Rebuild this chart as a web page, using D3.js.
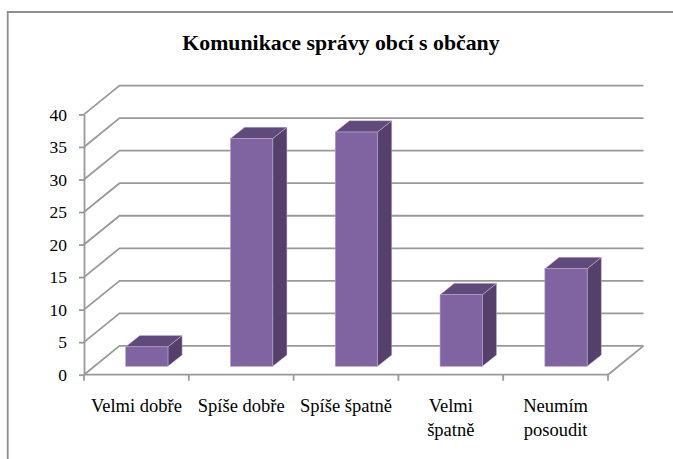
<!DOCTYPE html>
<html>
<head>
<meta charset="utf-8">
<script src="https://cdn.jsdelivr.net/npm/d3@7"></script>
<style>
  html, body { margin: 0; padding: 0; background: #fff; }
  svg { display: block; }
  text { font-family: "Liberation Serif", serif; fill: #000; }
</style>
</head>
<body>
<svg id="chart" width="673" height="459"></svg>
<script>
const categories = [["Velmi dobře"], ["Spíše dobře"], ["Spíše špatně"], ["Velmi", "špatně"], ["Neumím", "posoudit"]];
const values = [3, 35, 36, 11, 15];
const yTicks = [0, 5, 10, 15, 20, 25, 30, 35, 40];
const title = "Komunikace správy obcí s občany";

const gray = "#999";
const plot = { left: 84, right: 608, top: 114.4, bottom: 374.7 };
const wall = { dx: 35.5, dy: -28.8 };   // offset of the back wall
const bar = { dx: 14.2, dy: -11.4, offX: 10.4, offY: -8.4, width: 42.3 };

const svg = d3.select("#chart");

// frame of the pasted chart, cut off at the right and bottom
svg.append("path")
  .attr("d", "M7.7,459V12H673")
  .attr("fill", "none")
  .attr("stroke", "#8e8e8e")
  .attr("stroke-width", 1.8);

svg.append("text")
  .attr("x", 341)
  .attr("y", 50)
  .attr("text-anchor", "middle")
  .style("font-size", "21.8px")
  .style("font-weight", "bold")
  .text(title);

const x = d3.scaleBand()
  .domain(d3.range(categories.length))
  .range([plot.left, plot.right]);

const y = d3.scaleLinear()
  .domain([0, 40])
  .range([plot.bottom, plot.top]);

// gridlines run along the side wall and then the back wall
svg.append("g")
  .selectAll("path")
  .data(yTicks)
  .join("path")
  .attr("fill", "none")
  .attr("stroke", gray)
  .attr("stroke-width", 1.8)
  .attr("d", d => `M${plot.left},${y(d)}l${wall.dx},${wall.dy}H${plot.right + wall.dx}`);

// floor edge on the right
svg.append("path")
  .attr("fill", "none")
  .attr("stroke", gray)
  .attr("stroke-width", 1.8)
  .attr("d", `M${plot.right},${y(0)}l${wall.dx},${wall.dy}`);

// Y axis
const yAxis = svg.append("g")
  .attr("transform", `translate(${plot.left},0)`)
  .call(d3.axisLeft(y).tickValues(yTicks).tickSize(5).tickPadding(12).tickSizeOuter(0));
yAxis.selectAll("line, path").attr("stroke", gray).attr("stroke-width", 1.8);
yAxis.selectAll("text")
  .style("font-family", '"Liberation Serif", serif')
  .style("font-size", "17.5px")
  .attr("fill", "#000");

// X axis, ticks sit between the categories
svg.append("line")
  .attr("x1", plot.left)
  .attr("x2", plot.right)
  .attr("y1", y(0))
  .attr("y2", y(0))
  .attr("stroke", gray)
  .attr("stroke-width", 1.8);

svg.append("g")
  .selectAll("line")
  .data(d3.range(categories.length + 1))
  .join("line")
  .attr("x1", d => plot.left + d * x.step())
  .attr("x2", d => plot.left + d * x.step())
  .attr("y1", y(0))
  .attr("y2", y(0) + 6)
  .attr("stroke", gray)
  .attr("stroke-width", 1.8);

// category labels
const labels = svg.append("g")
  .selectAll("text")
  .data(categories)
  .join("text")
  .attr("text-anchor", "middle")
  .style("font-size", "18.5px");

labels.selectAll("tspan")
  .data((d, i) => d.map((line, k) => ({ line, k, i })))
  .join("tspan")
  .attr("x", d => x(d.i) + x.step() / 2)
  .attr("y", d => 411.5 + d.k * 24)
  .text(d => d.line);

// bars
const bars = svg.append("g")
  .selectAll("g")
  .data(values)
  .join("g")
  .attr("transform", (d, i) => `translate(${x(i) + (x.step() - bar.width) / 2 + bar.offX},${bar.offY})`);

// side face
bars.append("path")
  .attr("fill", "#54406a")
  .attr("stroke", "#c9bfd6")
  .attr("stroke-width", 0.5)
  .attr("d", d => `M${bar.width},${y(d)}l${bar.dx},${bar.dy}V${y(0) + bar.dy}l${-bar.dx},${-bar.dy}Z`);

// top face
bars.append("path")
  .attr("fill", "#604a7b")
  .attr("stroke", "#c9bfd6")
  .attr("stroke-width", 0.5)
  .attr("d", d => `M0,${y(d)}l${bar.dx},${bar.dy}h${bar.width}l${-bar.dx},${-bar.dy}Z`);

// front face
bars.append("rect")
  .attr("width", bar.width)
  .attr("y", d => y(d))
  .attr("height", d => y(0) - y(d))
  .attr("fill", "#8064a2")
  .attr("stroke", "#b3a2c7")
  .attr("stroke-width", 0.6);
</script>
</body>
</html>
